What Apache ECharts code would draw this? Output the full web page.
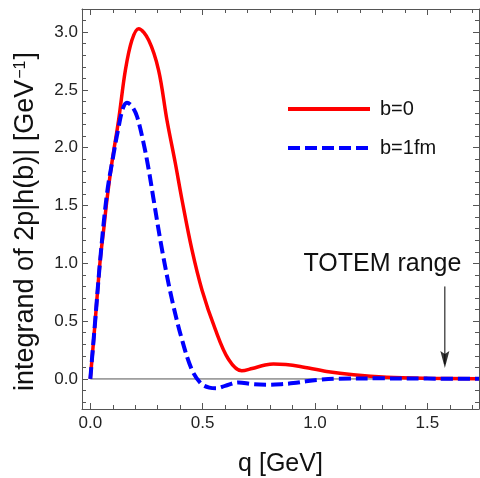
<!DOCTYPE html>
<html>
<head>
<meta charset="utf-8">
<script src="https://cdn.jsdelivr.net/npm/echarts@6/dist/echarts.min.js"></script>
<style>html,body{margin:0;padding:0;background:#fff;}#c{width:480px;height:478px;}</style>
</head>
<body>
<div id="c"></div>
<script>
// ---- data ----
const qRed = [0, 0.02, 0.044, 0.06, 0.074, 0.096, 0.126, 0.156, 0.185, 0.215, 0.26, 0.304, 0.341, 0.378, 0.408, 0.452, 0.497, 0.556, 0.615, 0.674, 0.72, 0.778, 0.815, 0.87, 0.934, 1.052, 1.171, 1.32, 1.5, 1.73];
const vRed = [0, 0.46, 1.03, 1.30, 1.55, 1.87, 2.24, 2.67, 2.93, 3.03, 2.93, 2.67, 2.24, 1.87, 1.55, 1.12, 0.77, 0.43, 0.17, 0.07, 0.09, 0.12, 0.13, 0.125, 0.108, 0.065, 0.036, 0.015, 0.006, 0.002];
const qBlue = [0, 0.022, 0.044, 0.074, 0.104, 0.126, 0.145, 0.163, 0.185, 0.208, 0.237, 0.26, 0.281, 0.319, 0.363, 0.408, 0.452, 0.493, 0.53, 0.563, 0.6, 0.66, 0.72, 0.786, 0.85, 0.904, 0.96, 1.02, 1.1, 1.3, 1.5, 1.73];
const vBlue = [0, 0.51, 1.03, 1.60, 1.95, 2.18, 2.34, 2.39, 2.36, 2.27, 2.04, 1.81, 1.56, 1.12, 0.69, 0.34, 0.08, -0.04, -0.075, -0.08, -0.06, -0.03, -0.045, -0.05, -0.045, -0.036, -0.02, -0.007, 0.002, 0.005, 0.003, 0.001];
const seriesNames = ['b=0', 'b=1fm'];
const xMajor = [0, 0.5, 1.0, 1.5];
const xMinor = [0.1, 0.2, 0.3, 0.4, 0.6, 0.7, 0.8, 0.9, 1.1, 1.2, 1.3, 1.4, 1.6, 1.7];
const yMajor = [0, 0.5, 1.0, 1.5, 2.0, 2.5, 3.0];
const yMinor = [-0.2, -0.1, 0.1, 0.2, 0.3, 0.4, 0.6, 0.7, 0.8, 0.9, 1.1, 1.2, 1.3, 1.4, 1.6, 1.7, 1.8, 1.9, 2.1, 2.2, 2.3, 2.4, 2.6, 2.7, 2.8, 2.9, 3.1];
const zeroQ = [0, 1.73];
const zeroV = [0, 0];
const arrowQ = [1.578, 1.578];
const arrowV = [0.80, 0.13];
const arrowTip = [1.578, 0.094];
const noteText = 'TOTEM range';
const notePos = [1.30, 0.99];
const xRange = [-0.037, 1.73];
const yRange = [-0.26, 3.2];

const FONT = "'Liberation Sans', Arial, sans-serif";
const FRAME = '#555';
const pairs = (a, b) => a.map((v, i) => [v, b[i]]);

function xAx(pos, ticks, len, labels, main) {
  return {
    type: 'value', position: pos, min: xRange[0], max: xRange[1],
    axisLine: { show: main, onZero: false, lineStyle: { color: FRAME, width: 1 } },
    axisTick: { show: true, inside: true, length: len, customValues: ticks, lineStyle: { color: FRAME, width: 1 } },
    axisLabel: { show: labels, customValues: ticks, formatter: v => v.toFixed(1), fontSize: 17, color: '#222', fontFamily: FONT, margin: 6 },
    splitLine: { show: false }
  };
}
function yAx(pos, ticks, len, labels, main) {
  return {
    type: 'value', position: pos, min: yRange[0], max: yRange[1],
    axisLine: { show: main, onZero: false, lineStyle: { color: FRAME, width: 1 } },
    axisTick: { show: true, inside: true, length: len, customValues: ticks, lineStyle: { color: FRAME, width: 1 } },
    axisLabel: { show: labels, customValues: ticks, formatter: v => v.toFixed(1), fontSize: 17, color: '#222', fontFamily: FONT, margin: 4 },
    splitLine: { show: false }
  };
}

const xAxes = [
  Object.assign(xAx('bottom', xMajor, 6, true, true), { name: 'q [GeV]', nameLocation: 'middle', nameGap: 43, nameTextStyle: { fontSize: 25, color: '#111', fontFamily: FONT } }),
  xAx('bottom', xMinor, 4, false, false),
  xAx('top', xMajor, 6, false, true),
  xAx('top', xMinor, 4, false, false)
];
const yAxes = [
  yAx('left', yMajor, 6, true, true),
  yAx('left', yMinor, 4, false, false),
  yAx('right', yMajor, 6, false, true),
  yAx('right', yMinor, 4, false, false)
];

const chart = echarts.init(document.getElementById('c'), null, { renderer: 'canvas' });
chart.setOption({
  animation: false,
  backgroundColor: '#fff',
  grid: { left: 82, right: 1, top: 9, height: 400, containLabel: false, outerBoundsMode: 'none' },
  xAxis: xAxes,
  yAxis: yAxes,
  legend: {
    data: seriesNames, orient: 'vertical', left: 281, top: 94,
    itemWidth: 82, itemHeight: 20, itemGap: 19,
    itemStyle: { opacity: 0 },
    lineStyle: { width: 4 },
    textStyle: { fontSize: 20, color: '#111', fontFamily: FONT, padding: [0, 0, 0, 5] }
  },
  graphic: [{
    type: 'text', x: 26, y: 221.5, rotation: Math.PI / 2,
    style: {
      text: 'integrand of 2p|h(b)| [GeV{s|−1}]',
      fontSize: 27, fontFamily: FONT, fill: '#111', align: 'center', verticalAlign: 'middle',
      rich: { s: { fontSize: 16, fontFamily: FONT, fill: '#111', verticalAlign: 'top', padding: [0, 1, 10, 1] } }
    }
  }],
  series: [
    { name: 'zero', type: 'line', data: pairs(zeroQ, zeroV), symbol: 'none', silent: true,
      lineStyle: { color: '#555', width: 1 }, z: 1 },
    { name: seriesNames[0], type: 'line', data: pairs(qRed, vRed), symbol: 'none', smooth: 0.35,
      color: '#ff0000', lineStyle: { color: '#ff0000', width: 3.5 }, z: 3 },
    { name: seriesNames[1], type: 'line', data: pairs(qBlue, vBlue), symbol: 'none', smooth: 0.35,
      color: '#0000ff', lineStyle: { color: '#0000ff', width: 4, type: [12, 5], cap: 'butt' }, z: 4 },
    { name: 'arrow', type: 'line', data: pairs(arrowQ, arrowV), symbol: 'none', silent: true,
      lineStyle: { color: '#000', width: 1 }, z: 5,
      markPoint: {
        symbol: 'circle', symbolSize: 1, silent: true,
        itemStyle: { color: 'rgba(0,0,0,0)' },
        label: { show: true, position: 'inside', formatter: noteText, fontSize: 25, color: '#111', fontFamily: FONT },
        data: [{ coord: notePos }]
      } },
    { name: 'tip', type: 'scatter', data: [arrowTip], symbol: 'path://M5,18 L10,0 L5,3 L0,0 Z',
      symbolSize: [9, 17], symbolOffset: [0, '-50%'], itemStyle: { color: '#000' }, silent: true, z: 6 }
  ]
});
</script>
</body>
</html>
